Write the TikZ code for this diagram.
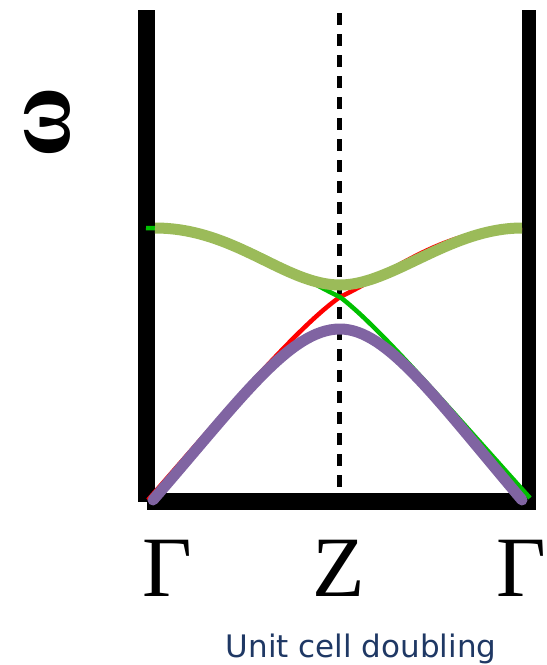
\documentclass[tikz,border=0pt]{standalone}
\usepackage{fontspec}
\setmainfont{Liberation Serif}
\newfontfamily\capfont{DejaVu Sans}
\definecolor{lgreen}{HTML}{9BBB59}
\definecolor{purp}{HTML}{8064A2}
\definecolor{capblue}{HTML}{1F3864}
\definecolor{bandred}{HTML}{FF0000}
\definecolor{bandgreen}{HTML}{00C000}
\tikzset{
  axisbar/.style={fill=black, draw=none},
  thinband/.style={line width=4.5pt},
  thickband/.style={line width=11pt},
  zline/.style={line width=5.5pt, dash pattern=on 12pt off 9pt},
  klabel/.style={font=\fontsize{86}{86}\selectfont, anchor=base, inner sep=0pt},
}
\begin{document}
\begin{tikzpicture}[x=1pt,y=-1pt]
\useasboundingbox (0,0) rectangle (547,665);
% axes
\fill[axisbar] (138,10) rectangle (155,502);
\fill[axisbar] (522,10) rectangle (536,505);
\fill[axisbar] (147,493) rectangle (536,510);
% Z dashed line
\coordinate (ztop) at (339.5,13);
\coordinate (zbot) at (339.5,495);
\draw[zline] (ztop) -- (zbot);
% original bands
\coordinate (g0) at (148,500);
\coordinate (x0) at (340,297);
\coordinate (e0) at (530,498);
\coordinate (e1) at (522,228);
\draw[thinband, bandred] (g0) .. controls (235,400) and (300,325) .. (x0)
  .. controls (400,268) and (442,229) .. (e1);
\draw[thinband, bandgreen] (146,228) .. controls (235,229) and (280,268) .. (x0)
  .. controls (377,325) and (442,400) .. (e0);
% folded bands
\coordinate (zu) at (340,285);
\coordinate (zl) at (340,329);
\draw[thickband, lgreen] (155,228) .. controls (235,228) and (285,285) .. (zu)
  .. controls (392,285) and (450,228) .. (e1);
\draw[thickband, purp, line cap=round] (153,500) .. controls (240,400) and (290,329) .. (zl)
  .. controls (387,329) and (437,400) .. (522,500);
% labels
\node[rotate=90, font=\bfseries\fontsize{96}{96}\selectfont, inner sep=0pt] (omega) at (47,122) {ω};
\node[klabel] (G1) at (167,596) {Γ};
\node[klabel] (Z) at (339,596) {Z};
\node[klabel] (G2) at (521,596) {Γ};
\node[font=\capfont\fontsize{31}{31}\selectfont, text=capblue, anchor=base, inner sep=0pt] (cap) at (361,657) {Unit cell doubling};
\end{tikzpicture}
\end{document}
